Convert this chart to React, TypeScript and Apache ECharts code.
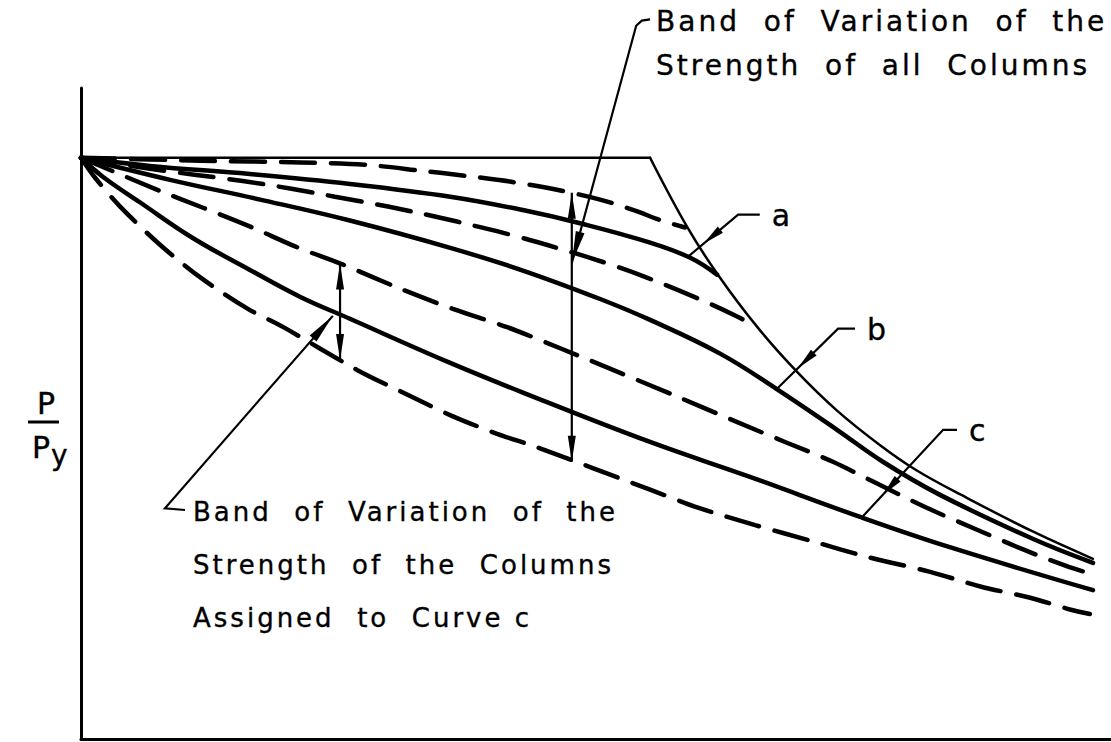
import React, { useEffect, useRef } from "react";
import * as echarts from "echarts";

type Pt = [number, number];

// Nondimensional slenderness (x) against P/Py (y)
const X_MAX = 2.0;
const Y_MAX = 1.12;

// Thin envelope: yield plateau, then the elastic buckling branch
const envelopePlateau: Pt[] = [[0, 1.0], [1.105, 1.0]];
const envelopeElastic: Pt[] = [
  [1.105, 1.0], [1.177, 0.881], [1.235, 0.801], [1.313, 0.709], [1.39, 0.632],
  [1.468, 0.565], [1.551, 0.506], [1.623, 0.462], [1.72, 0.415], [1.848, 0.357],
  [1.965, 0.31],
];

// Column strength curves a, b, c
const curveA: Pt[] = [
  [0, 1.0], [0.134, 0.986], [0.328, 0.972], [0.522, 0.955], [0.717, 0.933],
  [0.858, 0.91], [0.975, 0.886], [1.105, 0.854], [1.183, 0.828], [1.235, 0.799],
];
const curveB: Pt[] = [
  [0, 1.0], [0.173, 0.962], [0.348, 0.928], [0.522, 0.892], [0.717, 0.845],
  [0.858, 0.806], [1.008, 0.757], [1.105, 0.721], [1.241, 0.663], [1.351, 0.602],
  [1.468, 0.532], [1.557, 0.477], [1.668, 0.42], [1.849, 0.344], [1.965, 0.303],
];
const curveC: Pt[] = [
  [0, 1.0], [0.043, 0.967], [0.115, 0.923], [0.217, 0.862], [0.328, 0.807],
  [0.425, 0.761], [0.522, 0.723], [0.717, 0.647], [0.858, 0.596], [1.105, 0.511],
  [1.299, 0.451], [1.513, 0.382], [1.687, 0.33], [1.965, 0.256],
];

// Dashed band limits, top to bottom
const bandTop: Pt[] = [
  [0, 1.0], [0.233, 0.995], [0.427, 0.992], [0.551, 0.988], [0.658, 0.978],
  [0.746, 0.969], [0.833, 0.959], [0.924, 0.945], [1.008, 0.928], [1.076, 0.909],
  [1.124, 0.893], [1.173, 0.88],
];
const bandAB: Pt[] = [
  [0, 1.0], [0.134, 0.981], [0.314, 0.96], [0.406, 0.947], [0.493, 0.933],
  [0.596, 0.916], [0.687, 0.899], [0.773, 0.881], [0.849, 0.864], [0.924, 0.845],
  [1.019, 0.819], [1.095, 0.795], [1.2, 0.757], [1.276, 0.726], [1.309, 0.709],
];
const bandBC: Pt[] = [
  [0, 1.0], [0.153, 0.943], [0.237, 0.914], [0.33, 0.881], [0.417, 0.847],
  [0.509, 0.816], [0.619, 0.775], [0.722, 0.74], [0.829, 0.708], [0.934, 0.671],
  [1.041, 0.632], [1.15, 0.592], [1.264, 0.549], [1.367, 0.511], [1.46, 0.477],
  [1.54, 0.442], [1.639, 0.399], [1.74, 0.36], [1.827, 0.327], [1.918, 0.296],
  [1.955, 0.286],
];
const bandBottom: Pt[] = [
  [0, 1.0], [0.027, 0.966], [0.076, 0.916], [0.155, 0.849], [0.235, 0.792],
  [0.324, 0.74], [0.392, 0.709], [0.536, 0.635], [0.623, 0.597], [0.72, 0.556],
  [0.808, 0.525], [0.882, 0.503], [1.105, 0.429], [1.198, 0.398], [1.309, 0.368],
  [1.417, 0.341], [1.528, 0.313], [1.647, 0.288], [1.748, 0.262], [1.843, 0.243],
  [1.924, 0.222], [1.959, 0.215],
];

// Annotation geometry, in data units
const arrowAllBand: Pt[] = [[0.953, 0.94], [0.953, 0.477]];
const arrowCBand: Pt[] = [[0.503, 0.818], [0.503, 0.652]];
const leaderAll: Pt[] = [[1.105, 1.238], [1.089, 1.236], [1.078, 1.227], [0.953, 0.819]];
const leaderCBand: Pt[] = [[0.202, 0.394], [0.163, 0.397], [0.489, 0.728]];
const leaderA: Pt[] = [[1.318, 0.902], [1.276, 0.902], [1.179, 0.83]];
const leaderB: Pt[] = [[1.503, 0.706], [1.47, 0.706], [1.351, 0.602]];
const leaderCurveC: Pt[] = [[1.701, 0.532], [1.674, 0.532], [1.517, 0.382]];

const noteAll = ["Band  of  Variation  of  the", "Strength  of  all  Columns"];
const noteCBand = ["Band  of  Variation  of  the", "Strength  of  the  Columns", "Assigned  to  Curve c"];
const curveNames = ["a", "b", "c"];

const FONT_FAMILY = "'DejaVu Sans', sans-serif";
const INK = "#000";

function curve(name: string, data: Pt[], dashed: boolean, width: number, smooth = 0.3) {
  return {
    name,
    type: "line",
    data,
    smooth,
    symbol: "none",
    showSymbol: false,
    silent: true,
    clip: false,
    lineStyle: {
      color: INK,
      width,
      type: dashed ? [34, 16] : "solid",
      cap: "round",
    },
  };
}

function head(tip: number[], from: number[], len: number, half: number) {
  const dx = tip[0] - from[0];
  const dy = tip[1] - from[1];
  const d = Math.hypot(dx, dy) || 1;
  const ux = dx / d;
  const uy = dy / d;
  const bx = tip[0] - ux * len;
  const by = tip[1] - uy * len;
  return {
    type: "polygon",
    silent: true,
    shape: {
      points: [
        [tip[0], tip[1]],
        [bx - uy * half, by + ux * half],
        [bx + uy * half, by - ux * half],
      ],
    },
    style: { fill: INK },
  };
}

function pullBack(end: number[], prev: number[], dist: number) {
  const dx = end[0] - prev[0];
  const dy = end[1] - prev[1];
  const d = Math.hypot(dx, dy) || 1;
  return [end[0] - (dx / d) * dist, end[1] - (dy / d) * dist];
}

function text(str: string, x: number, y: number, size: number) {
  return {
    type: "text",
    silent: true,
    x,
    y,
    style: {
      text: str,
      fill: INK,
      stroke: INK,
      lineWidth: 0.35,
      fontSize: size,
      fontFamily: FONT_FAMILY,
      align: "left",
      verticalAlign: "middle",
      textAlign: "left",
      textVerticalAlign: "middle",
    },
  };
}

export default function App() {
  const ref = useRef<HTMLDivElement>(null);

  useEffect(() => {
    if (!ref.current) return;
    const chart = echarts.init(ref.current, null, { renderer: "svg" });

    chart.setOption({
      animation: false,
      backgroundColor: "#fff",
      grid: { left: 81, top: 88, right: 0, bottom: 3 },
      xAxis: {
        type: "value",
        min: 0,
        max: X_MAX,
        axisLine: { show: true, onZero: false, lineStyle: { color: INK, width: 3 } },
        axisTick: { show: false },
        axisLabel: { show: false },
        splitLine: { show: false },
      },
      yAxis: {
        type: "value",
        min: 0,
        max: Y_MAX,
        axisLine: { show: true, onZero: false, lineStyle: { color: INK, width: 3 } },
        axisTick: { show: false },
        axisLabel: { show: false },
        splitLine: { show: false },
      },
      series: [
        curve("envelope plateau", envelopePlateau, false, 2.5, 0),
        curve("envelope", envelopeElastic, false, 2.5, 0.4),
        curve("band top", bandTop, true, 4.5),
        curve("a", curveA, false, 4.5, 0.4),
        curve("band a-b", bandAB, true, 4.5, 0.4),
        curve("b", curveB, false, 4.5, 0.4),
        curve("band b-c", bandBC, true, 4.5),
        curve("c", curveC, false, 4.5, 0.4),
        curve("band bottom", bandBottom, true, 4.5),
      ],
    });

    const toPx = (p: Pt) => chart.convertToPixel({ seriesIndex: 0 }, p) as number[];
    const g: any[] = [];
    const poly = (pts: Pt[]) => {
      const pp = pts.map(toPx);
      g.push({
        type: "polyline",
        silent: true,
        shape: { points: pp },
        style: { stroke: INK, lineWidth: 2.2, fill: "none" },
      });
      return pp;
    };

    // double arrows spanning the bands
    for (const seg of [arrowAllBand, arrowCBand]) {
      const [t, b] = poly(seg);
      g.push(head(t, b, 26, 4));
      g.push(head(b, t, 26, 4));
    }

    // leaders from the notes
    {
      const pp = poly(leaderAll);
      const n = pp.length;
      g.push(head(pp[n - 1], pp[n - 2], 32, 4.5));
      const [x, y] = pp[0];
      g.push(text(noteAll[0], x + 6, y + 2, 28));
      g.push(text(noteAll[1], x + 6, y + 46, 28));
    }
    {
      const pp = poly(leaderCBand);
      const n = pp.length;
      g.push(head(pp[n - 1], pp[n - 2], 30, 4.5));
      const [x, y] = pp[0];
      noteCBand.forEach((s, i) => g.push(text(s, x + 8, y + 2 + i * 53, 26)));
    }

    // curve labels
    const leaders = [leaderA, leaderB, leaderCurveC];
    const offsets = [20, 30, 30];
    leaders.forEach((ld, i) => {
      const pp = poly(ld);
      const n = pp.length;
      const tip = pullBack(pp[n - 1], pp[n - 2], offsets[i]);
      g.push(head(tip, pp[n - 2], 22, 4));
      const [x, y] = pp[0];
      g.push(text(curveNames[i], x + 12, y + 1, 30));
    });

    // axis title P / Py
    g.push(text("P", 37, 403, 30));
    g.push({
      type: "line",
      silent: true,
      shape: { x1: 28, y1: 422, x2: 59, y2: 422 },
      style: { stroke: INK, lineWidth: 3 },
    });
    g.push(text("P", 32, 447, 30));
    g.push(text("y", 51, 455, 28));

    chart.setOption({ graphic: g });

    return () => chart.dispose();
  }, []);

  return (
    <>
      <style>{".pcurve-chart text { letter-spacing: 3px; }"}</style>
      <div
        ref={ref}
        className="pcurve-chart"
        style={{ position: "fixed", left: 0, top: 0, width: 1111, height: 742, background: "#fff" }}
      />
    </>
  );
}
